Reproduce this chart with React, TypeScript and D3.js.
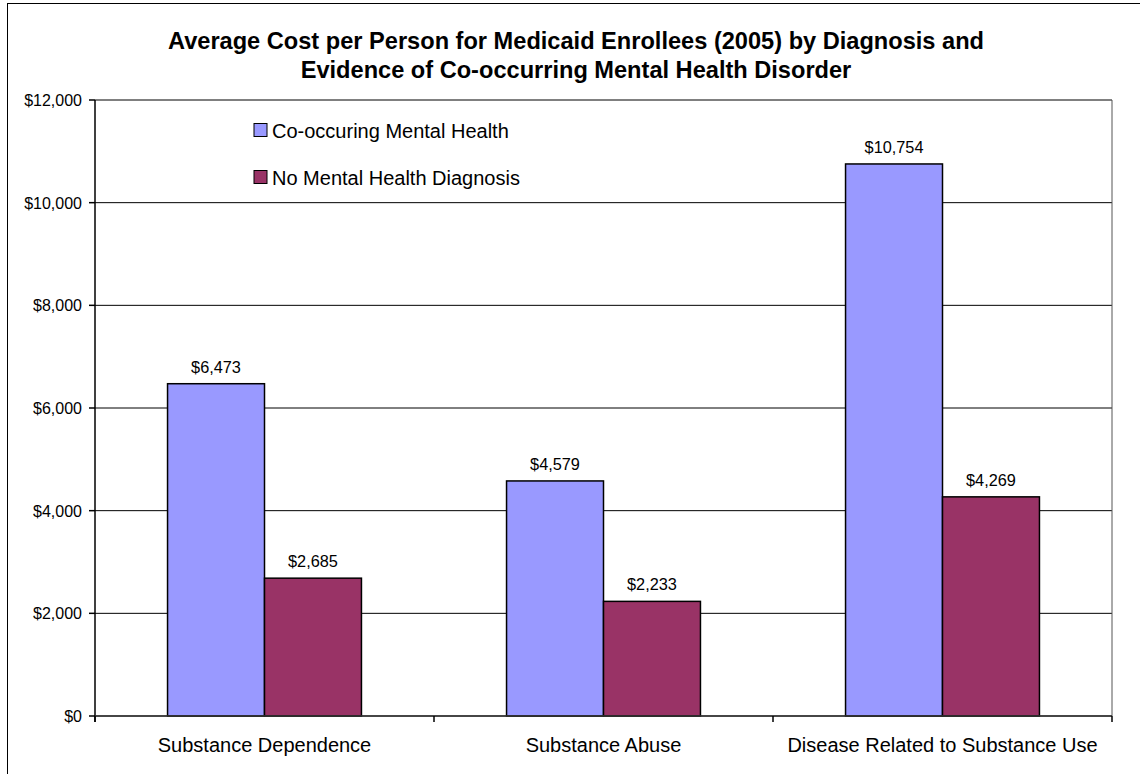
import { scaleBand, scaleLinear, range } from "d3";

const categories = ["Substance Dependence", "Substance Abuse", "Disease Related to Substance Use"];
const seriesNames = ["Co-occuring Mental Health", "No Mental Health Diagnosis"];
const coOccurring = [6473, 4579, 10754];
const noMental = [2685, 2233, 4269];
const yTicks = [0, 2000, 4000, 6000, 8000, 10000, 12000];
const titleLines = [
  "Average Cost per Person for Medicaid Enrollees (2005) by Diagnosis and",
  "Evidence of Co-occurring Mental Health Disorder",
];

const colors = ["#9999ff", "#993366"];
const FONT = "'Liberation Sans', Arial, sans-serif";
const W = 1140;
const H = 774;
// plot area box
const PLOT = { left: 95, right: 1112, top: 100, bottom: 716 };

const fmt = (v: number) => "$" + v.toLocaleString("en-US");

const App = () => {
  const x = scaleBand<string>().domain(categories).range([PLOT.left, PLOT.right]).padding(0);
  const y = scaleLinear().domain([0, 12000]).range([PLOT.bottom, PLOT.top]);
  const step = x.step();
  const barW = step * 0.286;
  const series = [coOccurring, noMental];

  return (
    <svg
      width={W}
      height={H}
      style={{ position: "absolute", left: 0, top: 0, display: "block", background: "#fff" }}
      fontFamily={FONT}
    >
      {/* outer chart frame, cut off at right/bottom */}
      <rect x={7.5} y={3.5} width={W + 10} height={H + 10} fill="#fff" stroke="#000" strokeWidth={1} />

      {titleLines.map((t, i) => (
        <text
          key={t}
          x={576}
          y={49 + i * 29}
          textAnchor="middle"
          fontSize={23.6}
          fontWeight="bold"
          fill="#000"
        >
          {t}
        </text>
      ))}

      {/* gridlines */}
      {yTicks.map((t) => (
        <line key={t} x1={PLOT.left} x2={PLOT.right} y1={y(t)} y2={y(t)} stroke="#000" strokeWidth={1} />
      ))}
      {/* plot border right */}
      <line x1={PLOT.right} x2={PLOT.right} y1={PLOT.top} y2={PLOT.bottom} stroke="#555" strokeWidth={1} />

      {/* bars */}
      {categories.map((c, ci) => {
        const center = (x(c) ?? 0) + step / 2;
        return series.map((s, si) => (
          <g key={c + si}>
            <rect
              x={center - barW + si * barW}
              y={y(s[ci])}
              width={barW}
              height={y(0) - y(s[ci])}
              fill={colors[si]}
              stroke="#000"
              strokeWidth={1.5}
            />
            <text
              x={center - barW / 2 + si * barW}
              y={y(s[ci]) - 11}
              textAnchor="middle"
              fontSize={16.3}
              fill="#000"
            >
              {fmt(s[ci])}
            </text>
          </g>
        ));
      })}

      {/* y axis */}
      <line x1={PLOT.left} x2={PLOT.left} y1={PLOT.top} y2={PLOT.bottom + 6} stroke="#000" strokeWidth={1.5} />
      {yTicks.map((t) => (
        <g key={"yt" + t}>
          <line x1={PLOT.left - 6} x2={PLOT.left} y1={y(t)} y2={y(t)} stroke="#000" strokeWidth={1.5} />
          <text x={PLOT.left - 13} y={y(t) + 6} textAnchor="end" fontSize={16} fill="#000">
            {fmt(t)}
          </text>
        </g>
      ))}

      {/* x axis */}
      <line x1={PLOT.left} x2={PLOT.right} y1={PLOT.bottom} y2={PLOT.bottom} stroke="#333" strokeWidth={1.5} />
      {range(categories.length + 1).map((i) => (
        <line
          key={"xt" + i}
          x1={PLOT.left + i * step}
          x2={PLOT.left + i * step}
          y1={PLOT.bottom}
          y2={PLOT.bottom + 6}
          stroke="#000"
          strokeWidth={1.5}
        />
      ))}
      {categories.map((c) => (
        <text key={"xl" + c} x={(x(c) ?? 0) + step / 2} y={752} textAnchor="middle" fontSize={20} fill="#000">
          {c}
        </text>
      ))}

      {/* legend */}
      {seriesNames.map((n, i) => (
        <g key={n} transform={`translate(254, ${123.5 + i * 47})`}>
          <rect x={0} y={0} width={13} height={13} fill={colors[i]} stroke="#000" strokeWidth={1} />
          <text x={18} y={14} fontSize={20} fill="#000">
            {n}
          </text>
        </g>
      ))}
    </svg>
  );
};

export default App;
